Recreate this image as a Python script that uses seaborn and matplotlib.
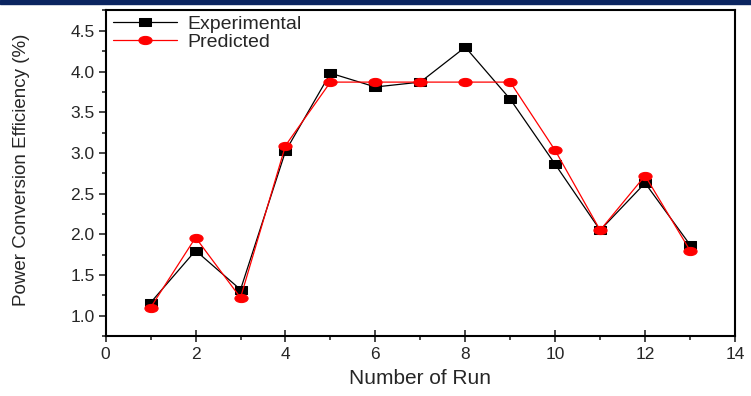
import matplotlib
matplotlib.use("Agg")
import matplotlib.pyplot as plt
import matplotlib.ticker as mtick
from matplotlib.path import Path
from matplotlib.patches import Rectangle
import numpy as np
import pandas as pd
import seaborn as sns

# data
runs = [1, 2, 3, 4, 5, 6, 7, 8, 9, 10, 11, 12, 13]
experimental = [1.16, 1.80, 1.32, 3.02, 3.98, 3.81, 3.87, 4.30, 3.66, 2.86, 2.05, 2.63, 1.87]
predicted = [1.10, 1.96, 1.22, 3.09, 3.87, 3.87, 3.87, 3.87, 3.87, 3.03, 2.05, 2.72, 1.80]

df = pd.DataFrame({"run": runs, "Experimental": experimental, "Predicted": predicted})

sns.set_style("ticks")
plt.rcParams['font.family'] = ['Liberation Sans', 'DejaVu Sans']

# the source picture is stretched sideways, so the markers are wide
rect_marker = Path([(-1, -0.6), (1, -0.6), (1, 0.6), (-1, 0.6), (-1, -0.6)],
                   [Path.MOVETO, Path.LINETO, Path.LINETO, Path.LINETO, Path.CLOSEPOLY])
circ = Path.unit_circle()
ell_marker = Path(circ.vertices * np.array([1.0, 0.62]), circ.codes)

fig = plt.figure(figsize=(7.51, 3.96), dpi=100)
ax = fig.add_axes([0.1407, 0.1515, 0.838, 0.822])

sns.lineplot(data=df, x="run", y="Experimental", ax=ax, color="black", lw=0.9,
             marker=rect_marker, markersize=8.5, markeredgecolor="black",
             markerfacecolor="black", label="Experimental")
sns.lineplot(data=df, x="run", y="Predicted", ax=ax, color="#ff0000", lw=0.9,
             marker=ell_marker, markersize=9.5, markeredgecolor="#ff0000",
             markerfacecolor="#ff0000", label="Predicted")

ax.set_xlim(0, 14)
ax.set_ylim(0.75, 4.75)
ax.xaxis.set_major_locator(mtick.MultipleLocator(2))
ax.xaxis.set_minor_locator(mtick.MultipleLocator(1))
ax.yaxis.set_major_locator(mtick.FixedLocator([1.0, 1.5, 2.0, 2.5, 3.0, 3.5, 4.0, 4.5]))
ax.yaxis.set_minor_locator(mtick.MultipleLocator(0.25))
ax.yaxis.set_major_formatter(mtick.FormatStrFormatter('%.1f'))

for s in ax.spines.values():
    s.set_linewidth(1.5)
    s.set_color("black")
    s.set_visible(True)

ax.tick_params(axis='x', which='major', direction='inout', length=8, width=1.2,
               labelsize=12.5, pad=4)
ax.tick_params(axis='x', which='minor', direction='out', length=3, width=1.2)
ax.tick_params(axis='y', which='major', direction='out', length=5, width=1.2,
               labelsize=12.5, pad=3)
ax.tick_params(axis='y', which='minor', direction='out', length=3, width=1.2)

ax.set_xlabel("Number of Run", fontsize=15)
ax.xaxis.set_label_coords(0.5, -0.1)
ax.set_ylabel("Power Conversion Efficiency (%)", fontsize=13.5)
ax.yaxis.set_label_coords(-0.12, 0.51)

leg = ax.legend(loc="upper left", bbox_to_anchor=(0.012, 0.985), frameon=False,
                fontsize=14, handlelength=3.3, handletextpad=0.5,
                labelspacing=0.0, borderpad=0, borderaxespad=0)

# dark band along the top edge of the source image
fig.patches.append(Rectangle((0, 1 - 4 / 396), 1, 4 / 396, transform=fig.transFigure,
                             color="#0b2560", zorder=10))

fig.savefig("out.png", dpi=100)
